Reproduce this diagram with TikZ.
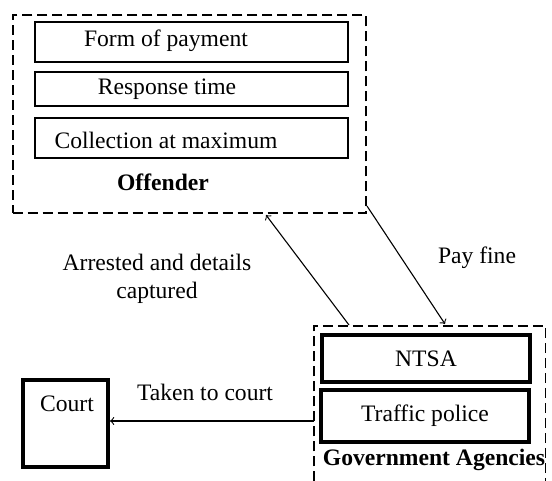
\documentclass[tikz,border=0pt]{standalone}
\usepackage{fontspec}
\setmainfont{Liberation Serif}
\usetikzlibrary{positioning}

\begin{document}
\begin{tikzpicture}[x=0.5pt, y=-0.5pt, font=\fontsize{11.8}{14}\selectfont]
\tikzstyle{group}=[rectangle, draw=black, dash pattern=on 5pt off 2.5pt, line width=0.9pt, inner sep=0pt]
\tikzstyle{item}=[rectangle, draw=black, line width=0.8pt, minimum width=156.5pt, inner sep=0pt]
\tikzstyle{heavy}=[rectangle, draw=black, line width=2pt, minimum width=104pt, inner sep=0pt]
\tikzstyle{connect}=[->, line width=0.55pt]
\tikzstyle{title}=[font=\fontsize{11.8}{14}\selectfont\bfseries, inner sep=0pt]
    \useasboundingbox (0,0) rectangle (552,481);
    % offender group
    \node[group, minimum width=176.7pt, minimum height=99pt] (off) at (189.3,114) { };
    \node[item, minimum height=20pt] (pay) at (191.5,42) { };
    \node[item, minimum height=17pt] (resp) at (191.5,89) { };
    \node[item, minimum height=20pt] (coll) at (191.5,138) { };
    \node (paytxt) at (166,41) {Form of payment};
    \node (resptxt) at (167,89) {Response time};
    \node (colltxt) at (166,140) {Collection at maximum};
    \node[title] (offtxt) at (163,182) {Offender};
    % government agencies
    \node[minimum width=115.5pt, minimum height=77.5pt, inner sep=0pt] (gov) at (429.5,403.5) { };
    \draw[dash pattern=on 5pt off 2.5pt, line width=0.9pt]
        (gov.south west) |- (gov.north east) -- (gov.south east);
    \node[heavy, minimum height=23.5pt] (ntsa) at (426,358.5) {NTSA};
    \node[heavy, minimum height=26pt] (police) at (425,416) {Traffic police};
    \node[title] (govtxt) at (434,460) {Government Agencies};
    % court
    \node[rectangle, draw=black, line width=2pt, minimum width=42.5pt, minimum height=43.5pt] (court) at (65.5,423.5) { };
    \node (courttxt) at (67,404) {Court};
    % connectors
    \coordinate (up0) at (349,325);
    \coordinate (up1) at (266,215);
    \coordinate (down0) at (367,206);
    \coordinate (down1) at (445,324);
    \coordinate (tc) at (314,421);
    \path (up0) edge [connect] (up1)
          (down0) edge [connect] (down1)
          (tc) edge [connect] (court.east |- tc);
    \node[align=center] (arrtxt) at (157,279) {Arrested and details\\captured};
    \node (paidtxt) at (477,258) {Pay fine};
    \node (takentxt) at (205,392) {Taken to court};
\end{tikzpicture}
\end{document}
